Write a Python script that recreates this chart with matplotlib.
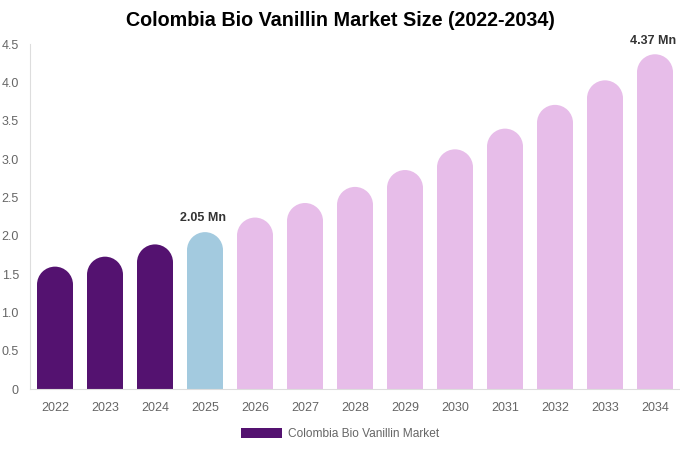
import matplotlib.pyplot as plt
from matplotlib.patches import Ellipse

years = ['2022', '2023', '2024', '2025', '2026', '2027', '2028',
         '2029', '2030', '2031', '2032', '2033', '2034']
values = [1.60, 1.73, 1.89, 2.05, 2.24, 2.43, 2.64, 2.86, 3.13, 3.40, 3.71, 4.03, 4.37]
yticks = [0, 0.5, 1.0, 1.5, 2.0, 2.5, 3.0, 3.5, 4.0, 4.5]
ytick_labels = ['0', '0.5', '1.0', '1.5', '2.0', '2.5', '3.0', '3.5', '4.0', '4.5']
labelled = {3: '2.05 Mn', 12: '4.37 Mn'}

purple = '#541270'
blue = '#a3cadf'
pink = '#e7bde9'
colors = [purple] * 3 + [blue] + [pink] * 9

plt.rcParams['font.family'] = ['Liberation Sans', 'DejaVu Sans']

fig = plt.figure(figsize=(6.8, 4.5), dpi=100)
ax = fig.add_axes([30 / 680, 1 - 389.3 / 450, 650 / 680, 345 / 450])
ax.set_xlim(-0.5, 12.5)
ax.set_ylim(0, 4.5)

width = 0.72
# radius of the rounded top, in data units on y
px_per_unit = 345 / 4.5
px_per_x = 650 / 13
ry = (width * px_per_x / 2) / px_per_unit

x = list(range(len(years)))
bars = ax.bar(x, [v - ry for v in values], width=width, color=colors,
              label='Colombia Bio Vanillin Market', linewidth=0)
for xi, v, c in zip(x, values, colors):
    ax.add_patch(Ellipse((xi, v - ry), width, 2 * ry, facecolor=c, linewidth=0))

for i, txt in labelled.items():
    ax.annotate(txt, (x[i], values[i]), xytext=(-1.5, 5.5), textcoords='offset points',
                ha='center', va='bottom', fontsize=9, fontweight='bold', color='#333333')

ax.set_xticks(x)
ax.set_xticklabels(years)
ax.set_yticks(yticks)
ax.set_yticklabels(ytick_labels)
ax.tick_params(axis='both', length=0, labelsize=9, labelcolor='#666666')
ax.tick_params(axis='x', pad=9)
ax.tick_params(axis='y', pad=8)
for s in ['top', 'right']:
    ax.spines[s].set_visible(False)
for s in ['left', 'bottom']:
    ax.spines[s].set_color('#dddddd')
    ax.spines[s].set_linewidth(0.8)

fig.suptitle('Colombia Bio Vanillin Market Size (2022-2034)', x=0.5, y=1 - 21 / 450,
             va='center', fontsize=14.2, fontweight='bold')

leg = fig.legend(handles=[bars[0]], labels=['Colombia Bio Vanillin Market'],
                 loc='center', bbox_to_anchor=(0.5, 1 - 434 / 450), frameon=False,
                 fontsize=8.6, handlelength=3.4, handleheight=0.9, handletextpad=0.5)
for t in leg.get_texts():
    t.set_color('#666666')

fig.savefig('out.png', dpi=100)
